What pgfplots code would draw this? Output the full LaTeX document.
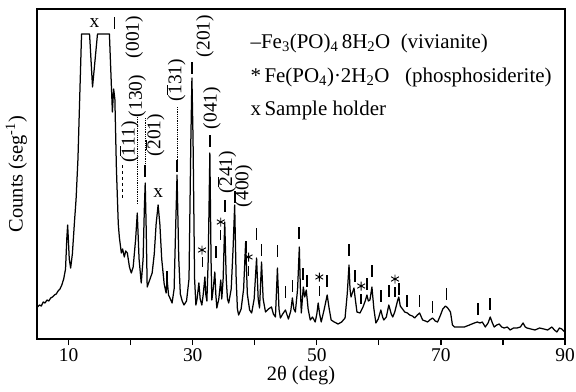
\documentclass[border=0pt]{standalone}
\usepackage{fontspec}
\setmainfont{Liberation Serif}
\usepackage{pgfplots}
\pgfplotsset{compat=1.18}
\newcommand\ob[1]{$\overline{\mbox{#1}}$}
\begin{document}
\begin{tikzpicture}
\begin{axis}[
 width=528bp, height=330bp, scale only axis,
 xmin=4.9, xmax=90, ymin=0, ymax=330,
 axis line style={line width=1.6bp},
 xtick={10,20,...,90}, xticklabels={10,,30,,50,,70,,90},
 ytick=\empty,
 xtick pos=bottom, tick align=outside,
 major tick length=6bp,
 every tick/.style={line width=1.2bp, black},
 tick label style={font=\fontsize{19.5}{21}\selectfont},
 /pgf/number format/assume math mode=true,
 xlabel={2θ (deg)},
 ylabel={Counts (seg\textsuperscript{-1})},
 label style={font=\fontsize{20.5}{22}\selectfont},
 xlabel style={yshift=2bp},
 ylabel style={at={(axis description cs:-0.012,0.5)}, anchor=south},
 clip=false,
]
\addplot[black, line width=1.25bp, line join=round] table {
5.0 32
5.3 34
5.6 33
5.9 37
6.2 36
6.5 39
6.8 38
7.1 41
7.4 42
7.7 44
8.0 45
8.3 48
8.6 50
8.9 54
9.2 60
9.5 70
9.7 100
9.84 114
9.95 100
10.1 80
10.32 71
10.6 85
10.96 119
11.2 140
11.5 180
11.76 236
12.08 305
13.37 305
13.85 252
14.65 305
16.57 305
17.05 227
17.25 250
17.45 240
17.7 170
18.0 115
18.17 102
18.49 86
18.7 90
18.97 82
19.2 88
19.46 86
19.8 72
20.1 66
20.4 72
20.8 100
21.06 126
21.35 80
21.70 56
22.0 80
22.2 130
22.34 156
22.5 110
22.66 52
23.0 58
23.46 66
23.8 85
24.1 115
24.42 134
24.7 115
25.0 80
25.4 55
25.71 46
25.87 60
26.1 44
26.4 40
26.67 36
27.0 50
27.2 100
27.47 164
27.75 80
28.0 45
28.3 38
28.59 34
29.0 38
29.4 60
29.7 200
29.87 261
30.05 200
30.3 60
30.51 34
30.7 40
30.99 56
31.2 40
31.47 34
31.7 45
31.96 62
32.1 45
32.28 38
32.5 80
32.76 186
32.95 80
33.08 39
33.3 50
33.56 67
33.72 45
33.88 31
34.2 40
34.52 59
34.68 40
34.9 60
35.16 117
35.4 60
35.6 40
35.80 36
36.2 50
36.5 90
36.76 134
37.0 60
37.2 30
37.40 24
37.8 30
38.2 50
38.53 97
38.8 45
39.17 29
39.5 26
39.9 40
40.29 81
40.55 40
40.77 31
41.09 77
41.35 40
41.73 27
42.2 30
42.69 32
43.0 25
43.33 22
43.65 71
43.9 30
44.13 21
44.5 25
44.94 29
45.42 20
45.8 28
46.06 41
46.3 30
46.54 27
46.9 50
47.18 92
47.35 50
47.50 26
47.82 52
48.05 42
48.30 49
48.6 30
48.94 19
49.3 22
49.74 17
50.0 25
50.22 36
50.45 25
50.71 17
51.2 30
51.67 44
52.0 30
52.31 19
52.8 17
53.43 15
54.0 17
54.55 21
54.9 45
55.19 74
55.35 50
55.51 42
55.99 51
56.2 40
56.47 27
56.96 26
57.44 32
57.8 38
58.08 44
58.3 38
58.56 39
58.88 52
59.2 30
59.52 16
59.9 20
60.32 29
60.6 22
60.80 19
61.2 22
61.60 34
62.0 25
62.24 22
62.56 27
63.0 38
63.21 42
63.45 33
63.69 31
64.17 27
64.6 26
64.97 24
65.4 23
65.77 21
66.2 24
66.57 26
67.05 19
67.5 18
67.85 17
68.2 19
68.65 21
69.1 18
69.46 17
69.94 24
70.3 30
70.74 33
71.1 31
71.54 27
71.86 14
72.18 12
73.0 12
73.78 12
74.6 14
75.38 16
75.87 17
76.3 16
76.67 17
77.15 12
77.6 16
77.95 22
78.3 16
78.59 12
79.0 14
79.39 15
79.8 12
80.19 11
80.7 12
81.15 9
81.7 11
82.28 11
82.8 12
83.24 16
83.6 12
83.88 11
84.5 10
85.16 9
85.9 11
86.60 10
87.2 9
87.88 12
88.3 9
88.69 7
89.1 11
89.49 10
89.97 7
};
% vivianite bars
\addplot[only marks, mark=|, mark size=6bp, mark options={line width=1.7bp}] coordinates {
(17.37,316) (22.34,168) (25.87,62) (27.47,173) (29.87,271) (32.76,198)
(33.8,87) (35.16,133) (36.76,142) (38.53,92) (40.29,105) (41.09,89)
(43.65,88) (44.94,47) (46.06,53) (47.18,106) (47.82,65) (48.46,58)
(51.67,58) (55.19,89) (56.15,63) (58.08,55) (58.88,68) (60.32,43)
(61.60,48) (63.21,50) (64.49,38) (66.57,38) (68.65,32) (70.9,45)
(76.0,30) (77.95,35)
};
% phosphosiderite bars
\addplot[only marks, mark=|, mark size=5bp, mark options={line width=1.4bp}] coordinates {
(31.55,77) (34.52,104) (39.0,68) (50.4,48) (57.15,40) (62.6,47)
};
\addplot[only marks, mark=asterisk, mark size=4.5bp, mark options={line width=0.9bp}] coordinates {
(31.5,89) (34.52,117) (39.0,82) (50.4,62) (57.15,53) (62.6,60)
};
% leader lines
\addplot[black, densely dotted, line width=0.8bp] coordinates {(21.06,222) (21.06,134)};
\addplot[black, densely dotted, line width=0.8bp] coordinates {(22.34,221) (22.34,174)};
\addplot[black, densely dotted, line width=0.8bp] coordinates {(27.47,232) (27.47,179)};
\addplot[black, dashed, line width=1.4bp] coordinates {(18.65,174) (18.65,140)};
% hkl labels
\begin{scope}[every node/.style={rotate=90, font=\fontsize{19.5}{21}\selectfont, inner sep=0pt}]
\node at (axis cs:20.58,302) {(001)};
\node at (axis cs:21.06,243) {(130)};
\node at (axis cs:19.78,197) {(\ob{1}11)};
\node at (axis cs:23.94,204) {(\ob{2}01)};
\node at (axis cs:27.31,259) {(\ob{1}31)};
\node at (axis cs:31.96,303) {(201)};
\node at (axis cs:33.08,231) {(041)};
\node at (axis cs:35.48,167) {(\ob{2}41)};
\node at (axis cs:38.2,153) {(400)};
\end{scope}
% sample holder x
\node[font=\fontsize{19.5}{21}\selectfont, inner sep=0pt] at (axis cs:14.17,316) {x};
\node[font=\fontsize{19.5}{21}\selectfont, inner sep=0pt] at (axis cs:24.42,146) {x};
% legend
\begin{scope}[every node/.style={anchor=west, font=\fontsize{21}{23}\selectfont, inner sep=0pt}]
\node at (axis cs:39.3,296) {–Fe\textsubscript{3}(PO)\textsubscript{4}\,8H\textsubscript{2}O\enspace(vivianite)};
\node at (axis cs:39.3,262) {*\,Fe(PO\textsubscript{4})·2H\textsubscript{2}O\enspace\ (phosphosiderite)};
\node at (axis cs:39.3,229) {x\,Sample holder};
\end{scope}
\end{axis}
\pgfresetboundingbox
\path ([shift={(-37bp,-53bp)}]current axis.south west) rectangle ([shift={(11bp,9bp)}]current axis.north east);
\end{tikzpicture}
\end{document}
